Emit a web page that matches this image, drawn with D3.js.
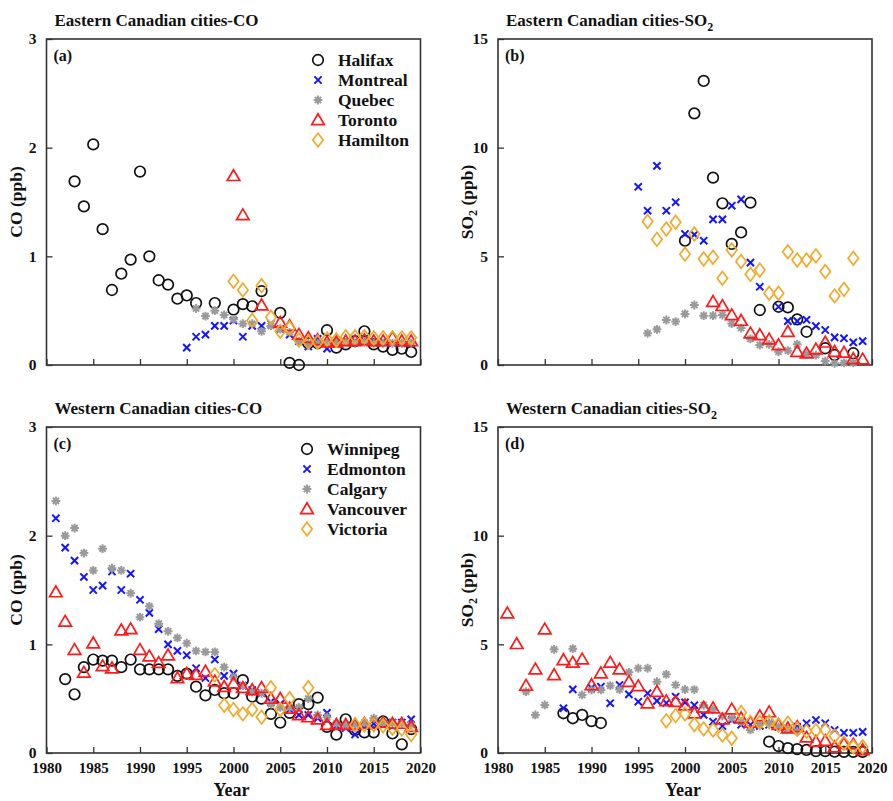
<!DOCTYPE html>
<html>
<head>
<meta charset="utf-8">
<script src="https://cdn.jsdelivr.net/npm/d3@7"></script>
<style>
  html, body { margin: 0; padding: 0; background: #fff; }
  svg text { font-family: "Liberation Serif", "Times New Roman", serif; font-weight: bold; fill: #111; }
</style>
</head>
<body>
<svg id="chart" width="893" height="801"></svg>
<script>
// ---- Eastern cities, CO (ppb) ----
const halifaxCO = [[1983,1.69],[1984,1.46],[1985,2.03],[1986,1.25],[1987,0.69],[1988,0.84],[1989,0.97],[1990,1.78],[1991,1.00],[1992,0.78],[1993,0.74],[1994,0.61],[1995,0.64],[1996,0.57],[1998,0.57],[2000,0.51],[2001,0.56],[2002,0.54],[2003,0.68],[2005,0.48],[2006,0.02],[2007,0.0],[2008,0.2],[2009,0.2],[2010,0.32],[2011,0.16],[2012,0.19],[2013,0.22],[2014,0.31],[2015,0.19],[2016,0.17],[2017,0.14],[2018,0.15],[2019,0.12]];
const montrealCO = [[1995,0.16],[1996,0.26],[1997,0.28],[1998,0.36],[1999,0.36],[2000,0.41],[2001,0.26],[2002,0.36],[2003,0.36],[2004,0.38],[2005,0.33],[2006,0.28],[2007,0.22],[2008,0.17],[2009,0.24],[2010,0.15],[2011,0.2],[2012,0.21],[2013,0.21],[2014,0.22],[2015,0.21],[2016,0.21],[2017,0.2],[2018,0.2],[2019,0.2]];
const quebecCO = [[1996,0.52],[1997,0.45],[1998,0.50],[1999,0.46],[2000,0.42],[2001,0.38],[2002,0.38],[2003,0.31],[2004,0.36],[2005,0.33],[2006,0.30],[2007,0.22],[2008,0.2],[2009,0.2],[2010,0.2],[2011,0.21],[2012,0.21],[2013,0.2],[2014,0.21],[2015,0.2],[2016,0.2],[2017,0.2],[2018,0.2],[2019,0.2]];
const torontoCO = [[2000,1.74],[2001,1.38],[2003,0.55],[2005,0.39],[2006,0.36],[2007,0.28],[2008,0.25],[2009,0.23],[2010,0.21],[2011,0.21],[2012,0.22],[2013,0.22],[2014,0.23],[2015,0.22],[2016,0.22],[2017,0.25],[2018,0.22],[2019,0.22]];
const hamiltonCO = [[2000,0.77],[2001,0.69],[2002,0.41],[2003,0.73],[2004,0.44],[2005,0.31],[2006,0.34],[2007,0.23],[2008,0.21],[2009,0.21],[2010,0.24],[2011,0.23],[2012,0.26],[2013,0.26],[2014,0.26],[2015,0.25],[2016,0.25],[2017,0.25],[2018,0.25],[2019,0.25]];

// ---- Eastern cities, SO2 (ppb) ----
const halifaxSO2 = [[2000,5.72],[2001,11.58],[2002,13.07],[2003,8.62],[2004,7.44],[2005,5.57],[2006,6.1],[2007,7.47],[2008,2.53],[2010,2.68],[2011,2.65],[2012,2.1],[2013,1.53],[2015,0.77],[2016,0.46],[2018,0.54]];
const montrealSO2 = [[1995,8.2],[1996,7.1],[1997,9.16],[1998,7.1],[1999,7.49],[2000,6.03],[2001,6.0],[2002,5.72],[2003,6.7],[2004,6.7],[2005,7.33],[2006,7.62],[2007,4.71],[2008,3.6],[2010,2.68],[2011,2.02],[2012,2.02],[2013,2.08],[2014,1.79],[2015,1.61],[2016,1.27],[2017,1.23],[2018,1.04],[2019,1.1]];
const quebecSO2 = [[1996,1.46],[1997,1.64],[1998,2.07],[1999,2.0],[2000,2.35],[2001,2.76],[2002,2.27],[2003,2.27],[2004,2.3],[2005,1.9],[2006,1.7],[2007,1.2],[2008,0.92],[2009,0.95],[2010,0.61],[2011,0.66],[2012,0.95],[2013,0.5],[2014,0.45],[2015,0.18],[2016,0.08],[2017,0.1],[2018,0.1]];
const torontoSO2 = [[2003,2.91],[2004,2.72],[2005,2.3],[2006,2.04],[2007,1.46],[2008,1.38],[2009,1.18],[2010,0.92],[2011,1.53],[2012,0.61],[2013,0.54],[2014,0.72],[2015,1.04],[2016,0.61],[2017,0.57],[2018,0.28],[2019,0.26]];
const hamiltonSO2 = [[1996,6.6],[1997,5.78],[1998,6.26],[1999,6.57],[2000,5.1],[2001,6.03],[2002,4.88],[2003,4.96],[2004,3.99],[2005,5.29],[2006,4.76],[2007,4.17],[2008,4.37],[2009,3.3],[2010,3.3],[2011,5.21],[2012,4.83],[2013,4.83],[2014,5.02],[2015,4.3],[2016,3.18],[2017,3.48],[2018,4.91]];

// ---- Western cities, CO (ppb) ----
const winnipegCO = [[1982,0.68],[1983,0.54],[1984,0.79],[1985,0.86],[1986,0.85],[1987,0.85],[1988,0.79],[1989,0.86],[1990,0.77],[1991,0.77],[1992,0.77],[1993,0.77],[1994,0.71],[1995,0.73],[1996,0.61],[1997,0.53],[1998,0.58],[1999,0.55],[2000,0.55],[2001,0.67],[2002,0.52],[2003,0.50],[2004,0.36],[2005,0.28],[2006,0.37],[2007,0.45],[2008,0.45],[2009,0.51],[2010,0.24],[2011,0.17],[2012,0.31],[2013,0.21],[2014,0.19],[2015,0.19],[2016,0.29],[2017,0.18],[2018,0.08],[2019,0.22]];
const edmontonCO = [[1981,2.16],[1982,1.89],[1983,1.77],[1984,1.62],[1985,1.50],[1986,1.54],[1987,1.67],[1988,1.50],[1989,1.65],[1990,1.41],[1991,1.29],[1992,1.14],[1993,1.0],[1994,0.94],[1995,0.90],[1996,0.78],[1997,0.69],[1998,0.86],[1999,0.71],[2000,0.73],[2001,0.62],[2002,0.58],[2003,0.55],[2004,0.47],[2005,0.45],[2006,0.40],[2007,0.35],[2008,0.35],[2009,0.32],[2010,0.37],[2011,0.25],[2012,0.23],[2013,0.17],[2014,0.25],[2015,0.27],[2016,0.27],[2017,0.28],[2018,0.28],[2019,0.31]];
const calgaryCO = [[1981,2.32],[1982,2.0],[1983,2.07],[1984,1.84],[1985,1.68],[1986,1.88],[1987,1.70],[1988,1.68],[1989,1.47],[1990,1.25],[1991,1.35],[1992,1.19],[1993,1.12],[1994,1.06],[1995,1.01],[1996,0.94],[1997,0.93],[1998,0.93],[1999,0.79],[2000,0.70],[2001,0.62],[2002,0.56],[2003,0.55],[2004,0.45],[2005,0.42],[2006,0.42],[2007,0.42],[2008,0.50],[2009,0.35],[2010,0.33],[2011,0.27],[2012,0.26],[2013,0.26],[2014,0.28],[2015,0.32],[2016,0.28],[2017,0.28],[2018,0.27],[2019,0.26]];
const vancouverCO = [[1981,1.48],[1982,1.21],[1983,0.95],[1984,0.74],[1985,1.01],[1986,0.80],[1987,0.78],[1988,1.13],[1989,1.14],[1990,0.95],[1991,0.89],[1992,0.83],[1993,0.90],[1994,0.69],[1995,0.73],[1996,0.72],[1997,0.75],[1998,0.66],[1999,0.61],[2000,0.64],[2001,0.60],[2002,0.58],[2003,0.60],[2004,0.50],[2005,0.50],[2006,0.41],[2007,0.35],[2008,0.33],[2009,0.31],[2010,0.26],[2011,0.26],[2012,0.26],[2013,0.26],[2014,0.27],[2015,0.27],[2016,0.28],[2017,0.27],[2018,0.27],[2019,0.24]];
const victoriaCO = [[1998,0.72],[1999,0.44],[2000,0.40],[2001,0.36],[2002,0.40],[2003,0.33],[2004,0.60],[2005,0.40],[2006,0.50],[2008,0.60],[2013,0.26],[2014,0.26],[2015,0.26],[2016,0.25],[2017,0.23],[2018,0.22],[2019,0.17]];

// ---- Western cities, SO2 (ppb) ----
const winnipegSO2 = [[1987,1.83],[1988,1.6],[1989,1.75],[1990,1.47],[1991,1.38],[2009,0.52],[2010,0.32],[2011,0.22],[2012,0.18],[2013,0.14],[2014,0.09],[2015,0.09],[2016,0.06],[2017,0.05],[2018,0.05],[2019,0.05]];
const edmontonSO2 = [[1987,2.06],[1988,2.93],[1990,3.0],[1991,3.05],[1992,2.29],[1993,3.13],[1994,2.7],[1995,2.36],[1996,2.75],[1997,2.4],[1998,2.3],[1999,2.59],[2000,2.33],[2001,2.2],[2002,1.75],[2003,1.44],[2004,1.24],[2005,1.52],[2006,1.3],[2007,1.3],[2008,1.25],[2009,1.3],[2010,1.2],[2011,1.1],[2012,1.2],[2013,1.37],[2014,1.52],[2015,1.37],[2016,1.06],[2017,0.93],[2018,0.93],[2019,0.97]];
const calgarySO2 = [[1983,2.82],[1984,1.75],[1985,2.21],[1986,4.77],[1988,4.8],[1989,2.67],[1990,2.9],[1991,2.9],[1992,3.1],[1993,2.92],[1994,3.71],[1995,3.9],[1996,3.9],[1997,3.28],[1998,3.62],[1999,3.13],[2000,2.92],[2001,2.92],[2002,2.2],[2003,2.0],[2004,1.7],[2005,1.6],[2006,1.44],[2007,1.06],[2008,1.3],[2009,1.4],[2010,1.2],[2011,1.1],[2012,1.0]];
const vancouverSO2 = [[1981,6.43],[1982,5.02],[1983,3.1],[1984,3.85],[1985,5.69],[1986,3.59],[1987,4.28],[1988,4.16],[1989,4.31],[1990,3.13],[1991,3.67],[1992,4.16],[1993,3.85],[1994,3.28],[1995,3.08],[1996,2.29],[1997,2.82],[1998,2.39],[1999,2.36],[2000,2.2],[2001,1.83],[2002,2.09],[2003,2.06],[2004,1.55],[2005,2.01],[2006,1.6],[2007,1.4],[2008,1.70],[2009,1.88],[2010,1.3],[2011,1.14],[2012,1.2],[2013,0.72],[2014,0.52],[2015,0.56],[2016,0.27],[2017,0.43],[2018,0.4],[2019,0.14]];
const victoriaSO2 = [[1998,1.48],[1999,1.72],[2000,1.8],[2001,1.31],[2002,1.11],[2003,1.06],[2004,0.83],[2005,0.68],[2006,1.86],[2007,1.4],[2008,1.4],[2009,1.44],[2010,1.29],[2011,1.37],[2012,1.09],[2013,1.0],[2014,1.03],[2015,1.06],[2016,0.78],[2017,0.45],[2018,0.29],[2019,0.29]];

// ---- axis ticks and labels ----
const yearTicks = [1980, 1985, 1990, 1995, 2000, 2005, 2010, 2015, 2020];
const coTicks = [0, 1, 2, 3];
const so2Ticks = [0, 5, 10, 15];
const eastNames = ["Halifax", "Montreal", "Quebec", "Toronto", "Hamilton"];
const westNames = ["Winnipeg", "Edmonton", "Calgary", "Vancouver", "Victoria"];

// marker styles by series slot
const markerKinds = ["circle", "cross", "star", "triangle", "diamond"];
const markerColors = ["#111111", "#1414ff", "#9a9a9a", "#ff1a1a", "#f0aa2a"];

const svg = d3.select("#chart");

function drawMarker(g, kind, color) {
  const sw = 1.7;
  if (kind === "circle") {
    g.append("circle").attr("r", 5.3).attr("fill", "none").attr("stroke", color).attr("stroke-width", sw);
  } else if (kind === "cross") {
    const s = 3.6;
    g.append("path").attr("d", `M${-s},${-s}L${s},${s}M${-s},${s}L${s},${-s}`)
      .attr("stroke", color).attr("stroke-width", 2).attr("fill", "none");
  } else if (kind === "star") {
    const s = 4.4, d = s * Math.SQRT1_2;
    g.append("path").attr("d", `M${-s},0L${s},0M0,${-s}L0,${s}M${-d},${-d}L${d},${d}M${-d},${d}L${d},${-d}`)
      .attr("stroke", color).attr("stroke-width", 2).attr("fill", "none");
  } else if (kind === "triangle") {
    g.append("path").attr("d", "M0,-6.2L6.3,4.6L-6.3,4.6Z")
      .attr("stroke", color).attr("stroke-width", sw).attr("fill", "none").attr("stroke-linejoin", "miter");
  } else if (kind === "diamond") {
    g.append("path").attr("d", "M0,-6.8L5.2,0L0,6.8L-5.2,0Z")
      .attr("stroke", color).attr("stroke-width", sw).attr("fill", "none");
  }
}

function panel(opts) {
  const { left, top, width, height, yMax, yTicks, series, title, titleSub, label, yLabel, ySub, showYears, legend } = opts;
  const x = d3.scaleLinear().domain([1980, 2020]).range([left, left + width]);
  const y = d3.scaleLinear().domain([0, yMax]).range([top + height, top]);
  const g = svg.append("g");

  // frame
  g.append("rect").attr("x", left).attr("y", top).attr("width", width).attr("height", height)
    .attr("fill", "none").attr("stroke", "#333").attr("stroke-width", 1.6);

  // bottom axis: inward ticks
  const xAxis = d3.axisBottom(x).tickValues(yearTicks).tickSizeInner(-6).tickSizeOuter(0)
    .tickPadding(9).tickFormat(showYears ? d3.format("d") : () => "");
  const gx = g.append("g").attr("transform", `translate(0,${top + height})`).call(xAxis);
  gx.select(".domain").remove();
  gx.selectAll(".tick line").attr("stroke", "#333").attr("stroke-width", 1.3);
  gx.selectAll(".tick text").attr("font-size", 15).attr("font-family", "Liberation Serif").attr("font-weight", "bold").attr("fill", "#111");

  // left axis: inward ticks
  const yAxis = d3.axisLeft(y).tickValues(yTicks).tickSizeInner(-6).tickSizeOuter(0).tickPadding(10).tickFormat(d3.format("d"));
  const gy = g.append("g").attr("transform", `translate(${left},0)`).call(yAxis);
  gy.select(".domain").remove();
  gy.selectAll(".tick line").attr("stroke", "#333").attr("stroke-width", 1.3);
  gy.selectAll(".tick text").attr("font-size", 15.5).attr("font-family", "Liberation Serif").attr("font-weight", "bold").attr("fill", "#111");

  // markers
  series.forEach((data, i) => {
    g.append("g").selectAll("g").data(data).join("g")
      .attr("transform", d => `translate(${x(d[0])},${y(d[1])})`)
      .each(function () { drawMarker(d3.select(this), markerKinds[i], markerColors[i]); });
  });

  // title
  const t = g.append("text").attr("x", left + 8).attr("y", top - 13).attr("font-size", 17).text(title);
  if (titleSub) t.append("tspan").attr("font-size", 12).attr("dy", 5).text(titleSub);

  // panel letter
  g.append("text").attr("x", left + 7).attr("y", top + 22).attr("font-size", 16).text(label);

  // y label
  const yl = g.append("text")
    .attr("transform", `translate(${left - 25},${top + height / 2}) rotate(-90)`)
    .attr("text-anchor", "middle").attr("font-size", 17.5);
  if (ySub) {
    yl.append("tspan").text("SO");
    yl.append("tspan").attr("font-size", 12).attr("dy", 4).text("2");
    yl.append("tspan").attr("dy", -4).text(" (ppb)");
  } else {
    yl.text(yLabel);
  }

  if (showYears) {
    g.append("text").attr("x", left + width / 2 - 2).attr("y", top + height + 43)
      .attr("text-anchor", "middle").attr("font-size", 18).text("Year");
  }

  if (legend) {
    const lg = g.append("g");
    legend.names.forEach((name, i) => {
      const row = lg.append("g").attr("transform", `translate(${legend.x},${legend.y + i * 20})`);
      drawMarker(row, markerKinds[i], markerColors[i]);
      row.append("text").attr("x", 20).attr("y", 6).attr("font-size", 17.5).text(name);
    });
  }
}

const W = 374, H = 326;
panel({ left: 46.5, top: 39, width: W, height: H, yMax: 3, yTicks: coTicks,
  series: [halifaxCO, montrealCO, quebecCO, torontoCO, hamiltonCO],
  title: "Eastern Canadian cities-CO", label: "(a)", yLabel: "CO (ppb)", showYears: false,
  legend: { names: eastNames, x: 318, y: 60 } });
panel({ left: 498, top: 39, width: W, height: H, yMax: 15, yTicks: so2Ticks,
  series: [halifaxSO2, montrealSO2, quebecSO2, torontoSO2, hamiltonSO2],
  title: "Eastern Canadian cities-SO", titleSub: "2", label: "(b)", ySub: true, showYears: false });
panel({ left: 46.5, top: 427, width: W, height: H, yMax: 3, yTicks: coTicks,
  series: [winnipegCO, edmontonCO, calgaryCO, vancouverCO, victoriaCO],
  title: "Western Canadian cities-CO", label: "(c)", yLabel: "CO (ppb)", showYears: true,
  legend: { names: westNames, x: 307, y: 449 } });
panel({ left: 498, top: 427, width: W, height: H, yMax: 15, yTicks: so2Ticks,
  series: [winnipegSO2, edmontonSO2, calgarySO2, vancouverSO2, victoriaSO2],
  title: "Western Canadian cities-SO", titleSub: "2", label: "(d)", ySub: true, showYears: true });
</script>
</body>
</html>
